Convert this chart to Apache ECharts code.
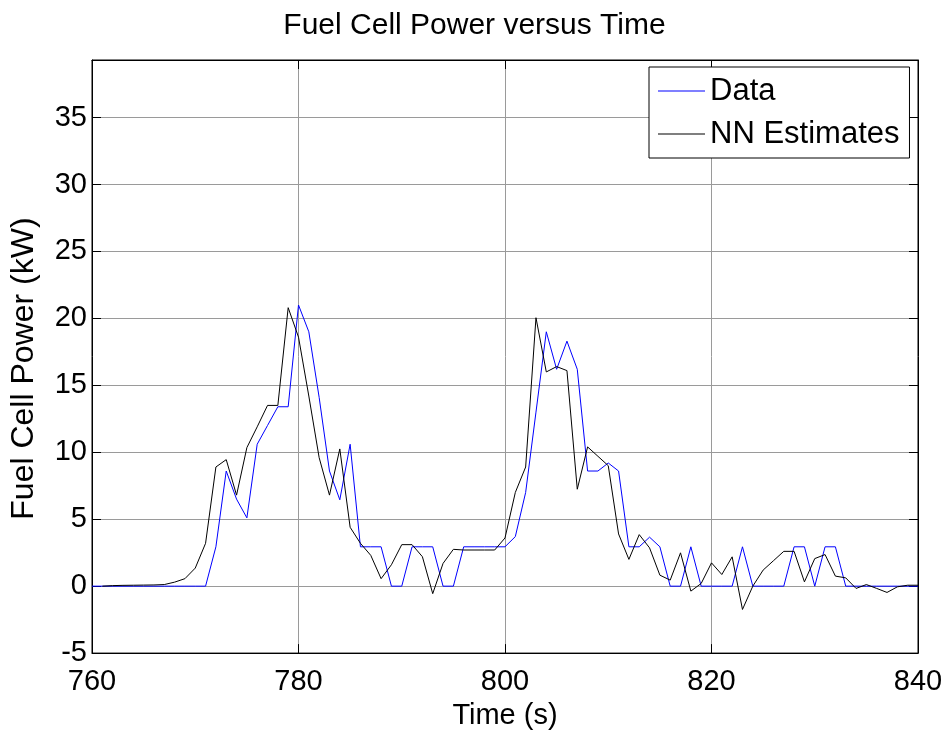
<!DOCTYPE html>
<html lang="en" style="height: 100%">
<head>
    <meta http-equiv="Content-Type" content="text/html; charset=utf-8"/>
    <title>Fuel Cell Power versus Time</title>
    <script type="text/javascript" src="https://cdn.jsdelivr.net/npm/echarts@6/dist/echarts.min.js"></script>
</head>
<body style="height: 100%; margin: 0; background: #fff">
<div id="container" style="width: 949px; height: 735px"></div>
<script type="text/javascript">
    // time axis (s), one sample per second
    var startTime = 760;
    var xTicks = [760, 780, 800, 820, 840];
    var yTicks = [-5, 0, 5, 10, 15, 20, 25, 30, 35];

    // measured power (kW), 760..840
    var dataPower = [
        0, 0, 0, 0, 0, 0, 0, 0, 0, 0, 0, 0,
        2.94, 8.6, 6.5, 5.1, 10.6, 12.0, 13.4, 13.4,
        21.0, 19.0, 14.1, 8.6, 6.45, 10.6, 2.94, 2.94, 2.94, 0,
        0, 2.94, 2.94, 2.94, 0, 0, 2.94, 2.94, 2.94, 2.94,
        2.94, 3.7, 7.0, 13.0, 19.0, 16.2, 18.3, 16.2, 8.6, 8.6,
        9.2, 8.6, 2.94, 2.94, 3.66, 2.94, 0, 0, 2.94, 0,
        0, 0, 0, 2.94, 0, 0, 0, 0, 2.94, 2.94,
        0, 2.94, 2.94, 0, 0, 0, 0, 0, 0, 0,
        0
    ];

    // neural network estimates (kW), 760..840 (no estimate at 760)
    var nnPower = [
        null, 0.0, 0.04, 0.06, 0.07, 0.08, 0.09, 0.12, 0.3, 0.56,
        1.35, 3.2, 8.9, 9.45, 6.8, 10.35, 11.9, 13.5, 13.5, 20.8,
        18.6, 14.2, 9.6, 6.8, 10.25, 4.4, 3.2, 2.3, 0.56, 1.6,
        3.1, 3.1, 2.2, -0.56, 1.7, 2.75, 2.7, 2.7, 2.7, 2.7,
        3.6, 7.0, 8.9, 20.05, 16.0, 16.4, 16.1, 7.24, 10.4, 9.7,
        9.0, 3.9, 2.0, 3.85, 2.86, 0.82, 0.45, 2.49, -0.37, 0.2,
        1.74, 0.87, 2.19, -1.74, 0.0, 1.2, 1.9, 2.6, 2.6, 0.32,
        2.06, 2.36, 0.75, 0.62, -0.17, 0.12, -0.17, -0.47, -0.05, 0.07,
        0.07
    ];

    function pairs(arr) {
        var out = [];
        for (var i = 0; i < arr.length; i++) {
            out.push([startTime + i, arr[i]]);
        }
        return out;
    }

    var font = 'Arial, "Liberation Sans", Helvetica, sans-serif';
    var dom = document.getElementById("container");
    var myChart = echarts.init(dom);

    var option = {
        animation: false,
        backgroundColor: '#fff',
        title: {
            text: 'Fuel Cell Power versus Time',
            left: 'center',
            top: 6,
            textStyle: {fontFamily: font, fontSize: 30, fontWeight: 'normal', color: '#000'}
        },
        legend: {
            orient: 'vertical',
            left: 649,
            top: 67,
            padding: [8, 10, 8, 9],
            itemGap: 11,
            itemWidth: 47,
            itemHeight: 1,
            icon: 'rect',
            borderColor: '#000',
            borderWidth: 1,
            backgroundColor: '#fff',
            textStyle: {fontFamily: font, fontSize: 31, color: '#000', lineHeight: 32},
            data: ['Data', 'NN Estimates']
        },
        grid: {
            left: 92, right: 31, top: 60, bottom: 76,
            show: true, borderColor: '#000', borderWidth: 1
        },
        xAxis: [{
            type: 'value',
            min: xTicks[0],
            max: xTicks[xTicks.length - 1],
            interval: 20,
            name: 'Time (s)',
            nameLocation: 'middle',
            nameGap: 44,
            nameTextStyle: {fontFamily: font, fontSize: 29, color: '#000'},
            axisLine: {onZero: false, lineStyle: {color: '#000', width: 1}},
            axisTick: {inside: true, length: 9, lineStyle: {color: '#000'}},
            axisLabel: {fontFamily: font, fontSize: 29, color: '#000', margin: 14},
            splitLine: {show: true, lineStyle: {color: '#9a9a9a', width: 1}}
        }, {
            type: 'value',
            position: 'top',
            min: xTicks[0],
            max: xTicks[xTicks.length - 1],
            interval: 20,
            axisLine: {onZero: false, lineStyle: {color: '#000', width: 1}},
            axisTick: {inside: true, length: 9, lineStyle: {color: '#000'}},
            axisLabel: {show: false},
            splitLine: {show: false}
        }],
        yAxis: [{
            type: 'value',
            min: yTicks[0],
            max: 39.3,
            interval: 5,
            name: 'Fuel Cell Power (kW)',
            nameLocation: 'middle',
            nameGap: 52,
            nameTextStyle: {fontFamily: font, fontSize: 32, color: '#000', padding: [0, 24, 0, 0]},
            axisLine: {show: true, onZero: false, lineStyle: {color: '#000', width: 1}},
            axisTick: {show: true, inside: true, length: 9, lineStyle: {color: '#000'}},
            axisLabel: {
                fontFamily: font, fontSize: 29, color: '#000', margin: 5,
                formatter: function (v) { return yTicks.indexOf(v) >= 0 ? String(v) : ''; }
            },
            splitLine: {show: true, lineStyle: {color: '#9a9a9a', width: 1}}
        }, {
            type: 'value',
            position: 'right',
            min: yTicks[0],
            max: 39.3,
            interval: 5,
            axisLine: {show: true, onZero: false, lineStyle: {color: '#000', width: 1}},
            axisTick: {show: true, inside: true, length: 9, lineStyle: {color: '#000'}},
            axisLabel: {show: false},
            splitLine: {show: false}
        }],
        series: [{
            name: 'Data',
            type: 'line',
            data: pairs(dataPower),
            showSymbol: false,
            color: '#0000ff',
            lineStyle: {color: '#0000ff', width: 1},
            z: 3
        }, {
            name: 'NN Estimates',
            type: 'line',
            data: pairs(nnPower),
            showSymbol: false,
            color: '#000',
            lineStyle: {color: '#000', width: 1},
            z: 4
        }]
    };

    if (option && typeof option === "object") {
        myChart.setOption(option, true);
    }
</script>
</body>
</html>
